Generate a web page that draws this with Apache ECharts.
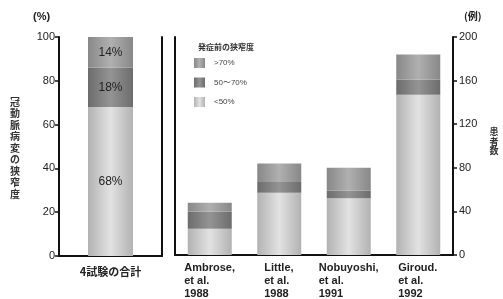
<!DOCTYPE html>
<html lang="ja">
<head>
<meta charset="UTF-8">
<title>発症前の狭窄度</title>
<script src="https://cdn.jsdelivr.net/npm/echarts@6/dist/echarts.min.js"></script>
<style>
  html, body { margin: 0; padding: 0; background: #fff; }
  #chart { width: 503px; height: 299px; }
</style>
</head>
<body>
<div id="chart"></div>
<script>
// 4試験の合計 (%)
var totalCat = ['4試験の合計'];
var totalLow = [68];   // <50%
var totalMid = [18];   // 50〜70%
var totalHigh = [14];  // >70%

// 各試験の患者数 (例)
var studies = ['Ambrose,\net al.\n1988', 'Little,\net al.\n1988', 'Nobuyoshi,\net al.\n1991', 'Giroud.\net al.\n1992'];
var studyLow = [24, 57, 52, 147];
var studyMid = [16, 10, 7, 14];
var studyHigh = [8, 17, 21, 23];

var legendNames = ['>70%', '50〜70%', '<50%'];
var leftTicks = [0, 100, 20];
var rightTicks = [0, 200, 40];

var jp = '"Noto Sans CJK JP", sans-serif';
var latin = '"Liberation Sans", Arial, sans-serif';

function shade(edge, mid) {
  return new echarts.graphic.LinearGradient(0, 0, 1, 0, [
    { offset: 0, color: edge },
    { offset: 0.5, color: mid },
    { offset: 1, color: edge }
  ]);
}
var cLow = shade('#b2b2b2', '#e2e2e2');
var cMid = shade('#6c6c6c', '#949494');
var cHigh = shade('#888888', '#b0b0b0');

// 下のラベルは行を左揃えにして、ブロックを中央に置く
var ctx = document.createElement('canvas').getContext('2d');
ctx.font = 'bold 11px ' + latin;
var rich = {};
studies.forEach(function (s, i) {
  var w = 0;
  s.split('\n').forEach(function (l) { w = Math.max(w, ctx.measureText(l).width); });
  rich['c' + i] = { width: Math.ceil(w), align: 'left', fontSize: 11, fontWeight: 'bold',
    fontFamily: latin, color: '#222', lineHeight: 13 };
});

var axisLine = { show: true, lineStyle: { color: '#111', width: 2 } };

var myChart = echarts.init(document.getElementById('chart'));

var option = {
  animation: false,
  backgroundColor: '#fff',
  grid: [
    { left: 59, right: 341, top: 37, bottom: 43 },
    { left: 175, right: 50, top: 37, bottom: 43 }
  ],
  legend: {
    data: legendNames,
    orient: 'vertical',
    left: 194, top: 58, padding: 0,
    itemWidth: 11, itemHeight: 10, itemGap: 9.5,
    icon: 'rect',
    textStyle: { fontSize: 8, color: '#444', fontFamily: latin, padding: [0, 0, 0, 4] }
  },
  xAxis: [
    { type: 'category', gridIndex: 0, data: totalCat, axisLine: axisLine, axisTick: { show: false },
      axisLabel: { margin: 10, fontSize: 11, fontWeight: 'bold', fontFamily: jp, color: '#222' } },
    { type: 'category', gridIndex: 1, data: studies, axisLine: axisLine, axisTick: { show: false },
      axisLabel: { interval: 0, margin: 6, align: 'center', rich: rich,
        formatter: function (v, i) {
          return v.split('\n').map(function (l) { return '{c' + i + '|' + l + '}'; }).join('\n');
        } } }
  ],
  yAxis: [
    { type: 'value', gridIndex: 0, position: 'left', min: leftTicks[0], max: leftTicks[1], interval: leftTicks[2],
      axisLine: axisLine, axisTick: { show: true, length: 4, lineStyle: { color: '#111', width: 1.5 } },
      splitLine: { show: false },
      axisLabel: { margin: 4, fontSize: 11, fontFamily: latin, color: '#222' } },
    { type: 'value', gridIndex: 0, position: 'right', min: 0, max: 100,
      axisLine: axisLine, axisTick: { show: false }, axisLabel: { show: false }, splitLine: { show: false } },
    { type: 'value', gridIndex: 1, position: 'left', min: 0, max: 200,
      axisLine: axisLine, axisTick: { show: false }, axisLabel: { show: false }, splitLine: { show: false } },
    { type: 'value', gridIndex: 1, position: 'right', min: rightTicks[0], max: rightTicks[1], interval: rightTicks[2],
      axisLine: axisLine, axisTick: { show: true, length: 4, lineStyle: { color: '#111', width: 1.5 } },
      splitLine: { show: false },
      axisLabel: { margin: 6, fontSize: 11, fontFamily: latin, color: '#222' } }
  ],
  series: [
    { name: '<50%', type: 'bar', stack: 't', xAxisIndex: 0, yAxisIndex: 0, barWidth: 45, data: totalLow,
      itemStyle: { color: cLow },
      label: { show: true, formatter: '{c}%', fontSize: 12, fontFamily: latin, color: '#222' } },
    { name: '50〜70%', type: 'bar', stack: 't', xAxisIndex: 0, yAxisIndex: 0, barWidth: 45, data: totalMid,
      itemStyle: { color: cMid },
      label: { show: true, formatter: '{c}%', fontSize: 12, fontFamily: latin, color: '#222' } },
    { name: '>70%', type: 'bar', stack: 't', xAxisIndex: 0, yAxisIndex: 0, barWidth: 45, data: totalHigh,
      itemStyle: { color: cHigh },
      label: { show: true, formatter: '{c}%', fontSize: 12, fontFamily: latin, color: '#222' } },
    { name: '<50%', type: 'bar', stack: 's', xAxisIndex: 1, yAxisIndex: 3, barWidth: 44, data: studyLow,
      itemStyle: { color: cLow } },
    { name: '50〜70%', type: 'bar', stack: 's', xAxisIndex: 1, yAxisIndex: 3, barWidth: 44, data: studyMid,
      itemStyle: { color: cMid } },
    { name: '>70%', type: 'bar', stack: 's', xAxisIndex: 1, yAxisIndex: 3, barWidth: 44, data: studyHigh,
      itemStyle: { color: cHigh } }
  ],
  graphic: [
    { type: 'text', left: 33, top: 11, style: { text: '(%)', font: 'bold 11px ' + latin, fill: '#222' } },
    { type: 'text', left: 464, top: 11, style: { text: '(例)', font: 'bold 10px ' + jp, fill: '#222' } },
    { type: 'text', left: 198, top: 43, style: { text: '発症前の狭窄度', font: 'bold 8px ' + jp, fill: '#333' } },
    { type: 'text', x: 15, y: 96, style: { text: '冠動脈病変の狭窄度'.split('').join('\n'),
      font: 'bold 10px ' + jp, lineHeight: 11.5, align: 'center', fill: '#333' } },
    { type: 'text', x: 494, y: 127, style: { text: '患者数'.split('').join('\n'),
      font: 'bold 9px ' + jp, lineHeight: 9.5, align: 'center', fill: '#333' } }
  ]
};

myChart.setOption(option);
</script>
</body>
</html>
